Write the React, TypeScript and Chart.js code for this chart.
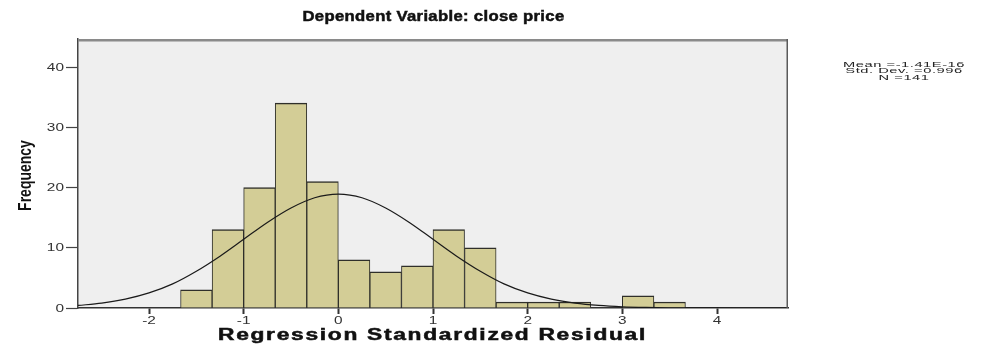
import React, { useEffect, useRef } from "react";
import { Chart, registerables } from "chart.js";

Chart.register(...registerables);

// ---- Data ----
const TITLE = "Dependent Variable: close price";
const X_TITLE = "Regression Standardized Residual";
const Y_TITLE = "Frequency";
const STATS_LINES = ["Mean =-1.41E-16", "Std. Dev. =0.996", "N =141"];

const BIN_EDGES = [
  -1.6667, -1.3333, -1, -0.6667, -0.3333, 0, 0.3333, 0.6667, 1, 1.3333, 1.6667,
  2, 2.3333, 2.6667, 3, 3.3333, 3.6667,
];
const BIN_COUNTS = [3, 13, 20, 34, 21, 8, 6, 7, 13, 10, 1, 1, 1, 0, 2, 1];

const CURVE_X = [
  -2.75, -2.5, -2.25, -2, -1.75, -1.5, -1.25, -1, -0.75, -0.5, -0.25, 0, 0.25,
  0.5, 0.75, 1, 1.25, 1.5, 1.75, 2, 2.25, 2.5, 2.75, 3, 3.25, 3.5, 3.75, 4,
  4.25, 4.5, 4.75,
];
const CURVE_Y = [
  0.42, 0.81, 1.47, 2.5, 4.0, 6.1, 8.6, 11.4, 14.2, 16.6, 18.3, 18.9, 18.3,
  16.6, 14.2, 11.4, 8.6, 6.1, 4.0, 2.5, 1.47, 0.81, 0.42, 0.2, 0.09, 0.04, 0.02,
  0.01, 0, 0, 0,
];

const X_TICKS = [-2, -1, 0, 1, 2, 3, 4];
const Y_TICKS = [0, 10, 20, 30, 40];
const X_MIN = -2.75;
const X_MAX = 4.75;
const Y_MIN = 0;
const Y_MAX = 44.65;

const FONT = '"Liberation Sans", Arial, Helvetica, sans-serif';

function drawFitted(
  ctx: CanvasRenderingContext2D,
  text: string,
  cx: number,
  baseline: number,
  font: string,
  targetWidth: number,
  spacing: number,
  color: string,
  stroke = 0
) {
  ctx.save();
  ctx.font = font;
  (ctx as any).letterSpacing = spacing + "px";
  const w = ctx.measureText(text).width;
  const sx = targetWidth / w;
  ctx.textAlign = "center";
  ctx.textBaseline = "alphabetic";
  ctx.fillStyle = color;
  ctx.translate(cx, baseline);
  ctx.scale(sx, 1);
  ctx.fillText(text, 0, 0);
  if (stroke > 0) {
    ctx.strokeStyle = color;
    ctx.lineWidth = stroke;
    ctx.strokeText(text, 0, 0);
  }
  ctx.restore();
  return sx;
}

function drawStretched(
  ctx: CanvasRenderingContext2D,
  text: string,
  x: number,
  y: number,
  font: string,
  sx: number,
  align: CanvasTextAlign,
  baseline: CanvasTextBaseline,
  color: string
) {
  ctx.save();
  ctx.font = font;
  ctx.textAlign = align;
  ctx.textBaseline = baseline;
  ctx.fillStyle = color;
  ctx.translate(x, y);
  ctx.scale(sx, 1);
  ctx.fillText(text, 0, 0);
  ctx.restore();
}

const spssPlugin = {
  id: "spssDecor",
  beforeDraw(chart: any) {
    const { ctx, chartArea } = chart;
    ctx.save();
    ctx.fillStyle = "#ffffff";
    ctx.fillRect(0, 0, chart.width, chart.height);
    ctx.fillStyle = "#efefef";
    ctx.fillRect(
      chartArea.left,
      chartArea.top,
      chartArea.right - chartArea.left,
      chartArea.bottom - chartArea.top
    );
    ctx.restore();
  },
  afterDraw(chart: any) {
    const { ctx, chartArea } = chart;
    const xs = chart.scales.x;
    const ys = chart.scales.y;
    ctx.save();
    // top and right frame
    ctx.fillStyle = "#8a8a8a";
    ctx.fillRect(chartArea.left, chartArea.top, chartArea.right - chartArea.left, 2.5);
    ctx.fillStyle = "#5a5a5a";
    ctx.fillRect(chartArea.right - 1.5, chartArea.top, 1.5, chartArea.bottom - chartArea.top);
    ctx.restore();

    // title
    drawFitted(ctx, TITLE, 433.5, 20.5, `bold 15px ${FONT}`, 262, 0.3, "#111111", 0.5);
    // x title
    drawFitted(ctx, X_TITLE, 432.5, 340, `bold 16px ${FONT}`, 429, 1.2, "#111111", 0.5);
    // y title (rotated)
    ctx.save();
    ctx.font = `bold 14px ${FONT}`;
    ctx.fillStyle = "#111111";
    ctx.textAlign = "center";
    ctx.textBaseline = "alphabetic";
    ctx.translate(31, (chartArea.top + chartArea.bottom) / 2 + 2);
    ctx.rotate(-Math.PI / 2);
    ctx.scale(1, 1.3);
    ctx.fillText(Y_TITLE, 0, 0);
    ctx.restore();

    // y tick labels
    for (const t of ys.ticks) {
      const py = ys.getPixelForValue(t.value);
      drawStretched(ctx, String(t.value), 64, py + 0.5, `11px ${FONT}`, 1.4, "right", "middle", "#333333");
    }
    // x tick labels
    for (const t of xs.ticks) {
      const px = xs.getPixelForValue(t.value);
      const label = t.value < 0 ? "-" + Math.abs(t.value) : String(t.value);
      drawStretched(ctx, label, px, 320.5, `11px ${FONT}`, 1.4, "center", "middle", "#333333");
    }

    // stats box
    ctx.save();
    ctx.font = `8px ${FONT}`;
    (ctx as any).letterSpacing = "0.3px";
    const sx = 122 / ctx.measureText(STATS_LINES[0]).width;
    ctx.restore();
    STATS_LINES.forEach((line, i) => {
      ctx.save();
      ctx.font = `8px ${FONT}`;
      (ctx as any).letterSpacing = "0.3px";
      ctx.textAlign = "center";
      ctx.textBaseline = "alphabetic";
      ctx.fillStyle = "#222222";
      ctx.translate(904, 66.5 + i * 6.6);
      ctx.scale(sx, 1);
      ctx.fillText(line, 0, 0);
      ctx.restore();
    });
  },
};

export default function App() {
  const canvasRef = useRef<HTMLCanvasElement | null>(null);

  useEffect(() => {
    if (!canvasRef.current) return;
    const barData = BIN_COUNTS.map((c, i) => ({
      x: (BIN_EDGES[i] + BIN_EDGES[i + 1]) / 2,
      y: c,
    })).filter((d) => d.y > 0);
    const curveData = CURVE_X.map((x, i) => ({ x, y: CURVE_Y[i] }));

    const chart = new Chart(canvasRef.current, {
      type: "bar",
      data: {
        datasets: [
          {
            type: "line",
            label: "Normal",
            data: curveData,
            borderColor: "#1a1a1a",
            borderWidth: 1.2,
            pointRadius: 0,
            fill: false,
            cubicInterpolationMode: "monotone",
            order: 0,
          } as any,
          {
            type: "bar",
            label: "Frequency",
            data: barData,
            backgroundColor: "rgb(211,205,150)",
            borderColor: "#2f2f2a",
            borderWidth: { top: 1.5, left: 1, right: 1, bottom: 0 },
            borderSkipped: "start",
            barPercentage: 1,
            categoryPercentage: 1,
            order: 1,
          } as any,
        ],
      },
      options: {
        animation: false,
        responsive: false,
        devicePixelRatio: 1,
        layout: { padding: { left: 0, top: 39, right: 197, bottom: 0 } },
        plugins: {
          legend: { display: false },
          title: { display: false },
          tooltip: { enabled: false },
        },
        scales: {
          x: {
            type: "linear",
            min: X_MIN,
            max: X_MAX,
            offset: false,
            afterBuildTicks: (scale: any) => {
              scale.ticks = X_TICKS.map((v) => ({ value: v }));
            },
            afterFit: (scale: any) => {
              scale.height = 45;
            },
            ticks: { display: false },
            grid: {
              display: true,
              offset: false,
              drawOnChartArea: false,
              drawTicks: true,
              tickLength: 6,
              tickColor: "#333333",
              tickWidth: 2,
            },
            border: { display: true, color: "#333333", width: 1.5 },
          },
          y: {
            type: "linear",
            min: Y_MIN,
            max: Y_MAX,
            afterBuildTicks: (scale: any) => {
              scale.ticks = Y_TICKS.map((v) => ({ value: v }));
            },
            afterFit: (scale: any) => {
              scale.width = 78;
            },
            ticks: { display: false },
            grid: {
              display: true,
              offset: false,
              drawOnChartArea: false,
              drawTicks: true,
              tickLength: 12,
              tickColor: "#444444",
              tickWidth: 1.2,
            },
            border: { display: true, color: "#444444", width: 1.5 },
          },
        },
      } as any,
      plugins: [spssPlugin],
    });
    return () => chart.destroy();
  }, []);

  return (
    <div
      style={{
        position: "fixed",
        left: 0,
        top: 0,
        width: 985,
        height: 353,
        background: "#ffffff",
      }}
    >
      <canvas ref={canvasRef} width={985} height={353} style={{ display: "block" }} />
    </div>
  );
}
